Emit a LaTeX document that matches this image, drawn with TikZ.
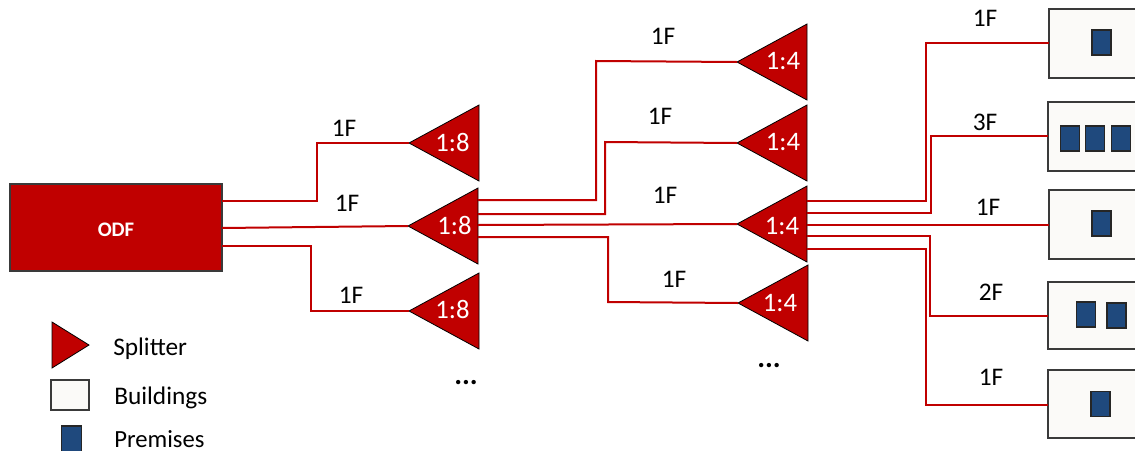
\documentclass[tikz,border=0pt]{standalone}
\usepackage{fontspec}
\setmainfont{Carlito}
\usetikzlibrary{shapes.geometric}
\definecolor{odfred}{HTML}{C00000}
\definecolor{bldfill}{HTML}{FBFAF8}
\definecolor{edgegray}{HTML}{3A3A3A}
\definecolor{premblue}{HTML}{1F497D}
\tikzset{
  splitter/.style={isosceles triangle, isosceles triangle stretches, shape border rotate=180,
    inner sep=0pt, outer sep=0pt, minimum width=76*0.75pt, minimum height=70*0.75pt,
    fill=odfred, draw=black, line width=0.6pt, anchor=apex},
  ratio/.style={text=white, font=\fontsize{20pt}{22pt}\selectfont, inner sep=0pt},
  fiber/.style={draw=odfred, line width=1.5pt, line join=miter},
  fiberlabel/.style={font=\fontsize{19pt}{22pt}\selectfont, inner sep=0pt, text=black},
  legendtext/.style={font=\fontsize{19pt}{22pt}\selectfont, inner sep=0pt, anchor=base west, text=black},
  building/.style={rectangle, fill=bldfill, draw=edgegray, line width=1.4pt, inner sep=0pt, outer sep=0pt,
    minimum width=92*0.75pt, anchor=north west},
  premise/.style={rectangle, fill=premblue, draw=black!85, line width=1.3pt, inner sep=0pt, outer sep=0pt,
    minimum width=19*0.75pt, minimum height=25*0.75pt},
  odfbox/.style={rectangle, fill=odfred, draw=edgegray, line width=1.5pt, inner sep=0pt, outer sep=0pt,
    minimum width=212*0.75pt, minimum height=87*0.75pt, anchor=north west},
  more/.style={font=\bfseries\fontsize{22pt}{24pt}\selectfont, inner sep=0pt, text=black}
}
\begin{document}
\begin{tikzpicture}[x=0.75pt,y=-0.75pt]
\useasboundingbox (0,0) rectangle (1135,450);
% ODF
\node[odfbox] (odf) at (10,184) {};
\node[text=white, font=\bfseries\fontsize{15.5pt}{17pt}\selectfont, inner sep=0pt] (odft) at (116,229.5) {ODF};
% first stage splitters
\node[splitter] (a1) at (409,143) {};
\node[splitter] (a2) at (408,226) {};
\node[splitter] (a3) at (409,311) {};
\node[ratio] (a1t) at (452.5,142) {1:8};
\node[ratio] (a2t) at (454.5,225) {1:8};
\node[ratio] (a3t) at (452.5,309) {1:8};
% second stage splitters
\node[splitter] (c1) at (737,62) {};
\node[splitter] (c2) at (737,143) {};
\node[splitter] (c3) at (737,224) {};
\node[splitter] (c4) at (738,303) {};
\node[ratio] (c1t) at (783,61) {1:4};
\node[ratio] (c2t) at (783,142) {1:4};
\node[ratio] (c3t) at (782,226) {1:4};
\node[ratio] (c4t) at (780,303) {1:4};
% buildings
\node[building, minimum height=69*0.75pt] (b1) at (1049,9) {};
\node[building, minimum height=69*0.75pt] (b2) at (1048,102) {};
\node[building, minimum height=69*0.75pt] (b3) at (1049,190) {};
\node[building, minimum height=67*0.75pt] (b4) at (1048,282) {};
\node[building, minimum height=68*0.75pt] (b5) at (1048,370) {};
% premises
\node[premise] (p1) at (1101.5,42.5) {};
\node[premise] (p2a) at (1070,138.5) {};
\node[premise] (p2b) at (1095,138.5) {};
\node[premise] (p2c) at (1121,138.5) {};
\node[premise] (p3) at (1101.5,223.5) {};
\node[premise] (p4a) at (1086,314.5) {};
\node[premise] (p4b) at (1116.5,315.5) {};
\node[premise] (p5) at (1100.5,404) {};
% connectors
\draw[fiber] (odf.east |- 0,201) -- (317,201) -- (317,143) -- (a1.apex);
\draw[fiber] (odf.east |- 0,228) -- (a2.apex);
\draw[fiber] (odf.east |- 0,246) -- (311,246) -- (311,311) -- (a3.apex);
\draw[fiber] (a2.lower side |- 0,200) -- (596,200) -- (596,61) -- (c1.apex);
\draw[fiber] (a2.lower side |- 0,214) -- (605,214) -- (605,142) -- (c2.apex);
\draw[fiber] (a2.lower side |- 0,225) -- (c3.apex);
\draw[fiber] (a2.lower side |- 0,237) -- (608,237) -- (608,302) -- (c4.apex);
\draw[fiber] (c3.lower side |- 0,201) -- (926,201) -- (926,43) -- (b1.west |- 0,43);
\draw[fiber] (c3.lower side |- 0,213) -- (931,213) -- (931,136) -- (b2.west |- 0,136);
\draw[fiber] (c3.lower side |- 0,225) -- (b3.west |- 0,225);
\draw[fiber] (c3.lower side |- 0,236) -- (930,236) -- (930,316) -- (b4.west |- 0,316);
\draw[fiber] (c3.lower side |- 0,249) -- (926,249) -- (926,405) -- (b5.west |- 0,405);
% fiber labels
\node[fiberlabel] (l1) at (344,128) {1F};
\node[fiberlabel] (l2) at (347,203) {1F};
\node[fiberlabel] (l3) at (351,295) {1F};
\node[fiberlabel] (l4) at (663,36) {1F};
\node[fiberlabel] (l5) at (660,116) {1F};
\node[fiberlabel] (l6) at (665,195) {1F};
\node[fiberlabel] (l7) at (674,279) {1F};
\node[fiberlabel] (l8) at (985,18) {1F};
\node[fiberlabel] (l9) at (985,122) {3F};
\node[fiberlabel] (l10) at (988,207) {1F};
\node[fiberlabel] (l11) at (991,292) {2F};
\node[fiberlabel] (l12) at (991,377) {1F};
% continuation marks
\node[more, anchor=base] (m1) at (466,384) {...};
\node[more, anchor=base] (m2) at (769,367) {...};
% legend
\node[splitter, shape border rotate=0, minimum width=46*0.75pt, minimum height=37*0.75pt] (ls) at (89,345) {};
\node[rectangle, fill=bldfill, draw=edgegray, line width=1.2pt, inner sep=0pt, minimum width=38*0.75pt, minimum height=30*0.75pt] (lb) at (70,395) {};
\node[premise, minimum width=20*0.75pt, minimum height=30*0.75pt, anchor=north] (lp) at (71.5,426) {};
\node[legendtext] (lst) at (113,355) {Splitter};
\node[legendtext] (lbt) at (114,404) {Buildings};
\node[legendtext, font=\fontsize{18.5pt}{22pt}\selectfont] (lpt) at (114,447) {Premises};
\end{tikzpicture}
\end{document}
